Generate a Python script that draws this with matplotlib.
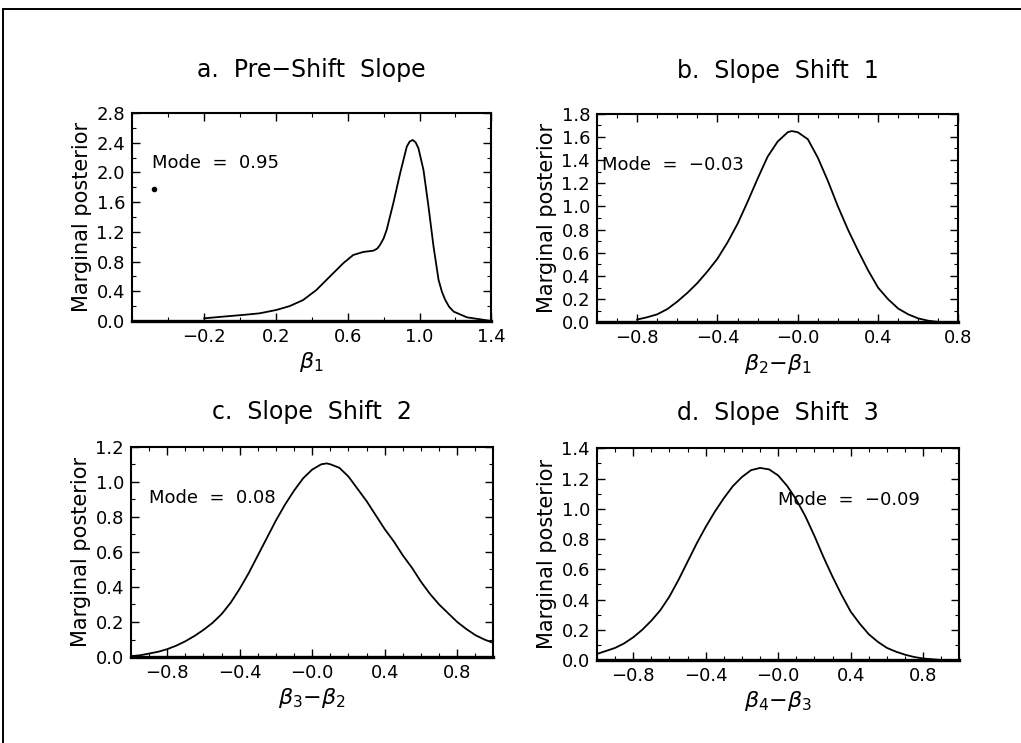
import matplotlib
matplotlib.use('Agg')
from matplotlib import pyplot as plt
from matplotlib.patches import Rectangle
from matplotlib.ticker import MultipleLocator

# panel a: pre-shift slope beta_1
a_x = [-0.198, -0.095, 0.016, 0.11, 0.203, 0.277, 0.351, 0.426, 0.50, 0.575, 0.631, 0.687,
       0.743, 0.765, 0.78, 0.80, 0.817, 0.854, 0.892, 0.929, 0.945, 0.962, 0.978, 0.994,
       1.022, 1.05, 1.078, 1.106, 1.125, 1.143, 1.165, 1.19, 1.264, 1.385]
a_y = [0.036, 0.058, 0.081, 0.103, 0.148, 0.20, 0.28, 0.417, 0.596, 0.776, 0.888, 0.929,
       0.946, 0.975, 1.023, 1.11, 1.225, 1.584, 1.988, 2.346, 2.415, 2.436, 2.405, 2.324,
       2.032, 1.538, 1.0, 0.552, 0.39, 0.283, 0.19, 0.126, 0.049, 0.005]

# panel b: slope shift 1
b_x = [-0.8, -0.75, -0.7, -0.65, -0.6, -0.55, -0.5, -0.45, -0.4, -0.35, -0.3, -0.25,
       -0.2, -0.15, -0.1, -0.05, -0.03, 0.0, 0.05, 0.1, 0.15, 0.2, 0.25, 0.3, 0.35, 0.4,
       0.45, 0.5, 0.55, 0.6, 0.65, 0.7, 0.75]
b_y = [0.025, 0.045, 0.07, 0.115, 0.18, 0.255, 0.34, 0.44, 0.55, 0.69, 0.85, 1.04,
       1.24, 1.43, 1.56, 1.64, 1.65, 1.64, 1.58, 1.42, 1.22, 1.00, 0.80, 0.62, 0.45, 0.30,
       0.20, 0.12, 0.07, 0.035, 0.015, 0.005, 0.0]

# panel c: slope shift 2
c_x = [-1.0, -0.95, -0.9, -0.85, -0.8, -0.75, -0.7, -0.65, -0.6, -0.55, -0.5, -0.45,
       -0.4, -0.35, -0.3, -0.25, -0.2, -0.15, -0.1, -0.05, 0.0, 0.05, 0.08, 0.1, 0.15,
       0.2, 0.25, 0.3, 0.35, 0.4, 0.45, 0.5, 0.55, 0.6, 0.65, 0.7, 0.75, 0.8, 0.85, 0.9,
       0.95, 1.0]
c_y = [0.005, 0.01, 0.02, 0.03, 0.045, 0.065, 0.09, 0.12, 0.155, 0.195, 0.245, 0.31,
       0.39, 0.48, 0.58, 0.68, 0.78, 0.87, 0.95, 1.02, 1.07, 1.10, 1.105, 1.10, 1.08,
       1.03, 0.96, 0.89, 0.81, 0.73, 0.66, 0.58, 0.51, 0.43, 0.36, 0.30, 0.25, 0.20, 0.16,
       0.125, 0.10, 0.08]

# panel d: slope shift 3
d_x = [-1.0, -0.95, -0.9, -0.85, -0.8, -0.75, -0.7, -0.65, -0.6, -0.55, -0.5, -0.45,
       -0.4, -0.35, -0.3, -0.25, -0.2, -0.15, -0.1, -0.05, 0.0, 0.05, 0.1, 0.15, 0.2,
       0.25, 0.3, 0.35, 0.4, 0.45, 0.5, 0.55, 0.6, 0.65, 0.7, 0.75, 0.8, 0.85, 0.9, 1.0]
d_y = [0.04, 0.06, 0.08, 0.11, 0.15, 0.20, 0.26, 0.33, 0.42, 0.53, 0.65, 0.77,
       0.88, 0.98, 1.07, 1.15, 1.21, 1.255, 1.27, 1.26, 1.22, 1.15, 1.06, 0.95, 0.82,
       0.68, 0.55, 0.43, 0.32, 0.24, 0.17, 0.12, 0.08, 0.055, 0.035, 0.02, 0.01, 0.005,
       0.0, 0.0]

titles = ['a.  Pre\u2212Shift  Slope', 'b.  Slope  Shift  1',
          'c.  Slope  Shift  2', 'd.  Slope  Shift  3']
xlabels = [r'$\beta_1$', r'$\beta_2{-}\beta_1$', r'$\beta_3{-}\beta_2$', r'$\beta_4{-}\beta_3$']
mode_texts = ['Mode  =  0.95', 'Mode  =  \u22120.03', 'Mode  =  0.08', 'Mode  =  \u22120.09']
mode_pos = [(-0.49, 2.13), (-0.975, 1.36), (-0.9, 0.91), (0.0, 1.06)]

xtick_vals = [[-0.2, 0.2, 0.6, 1.0, 1.4], [-0.8, -0.4, 0.0, 0.4, 0.8],
              [-0.8, -0.4, 0.0, 0.4, 0.8], [-0.8, -0.4, 0.0, 0.4, 0.8]]
xtick_labels = [['\u22120.2', '0.2', '0.6', '1.0', '1.4'],
                ['\u22120.8', '\u22120.4', '\u22120.0', '0.4', '0.8'],
                ['\u22120.8', '\u22120.4', '\u22120.0', '0.4', '0.8'],
                ['\u22120.8', '\u22120.4', '\u22120.0', '0.4', '0.8']]
xlims = [(-0.6, 1.4), (-1.0, 0.8), (-1.0, 1.0), (-1.0, 1.0)]
ylims = [(0, 2.8), (0, 1.8), (0, 1.2), (0, 1.4)]
ystep = [0.4, 0.2, 0.2, 0.2]

curves = [(a_x, a_y), (b_x, b_y), (c_x, c_y), (d_x, d_y)]

fig = plt.figure(figsize=(10.21, 7.43), dpi=100)
# page frame round the figure (runs off right and bottom)
fig.patches.append(Rectangle((0.003, -0.1), 1.2, 1.0906 - 0.003, transform=fig.transFigure,
                             fill=False, edgecolor='black', linewidth=1.4))

positions = [[0.1293, 0.568, 0.352, 0.280], [0.5847, 0.566, 0.354, 0.281],
             [0.1283, 0.1157, 0.355, 0.283], [0.5847, 0.1117, 0.355, 0.285]]
title_pad = [26, 26, 20, 20]

for i in range(4):
    ax = fig.add_axes(positions[i])
    x, y = curves[i]
    ax.plot(x, y, color='black', linewidth=1.3)
    ax.set_xlim(xlims[i])
    ax.set_ylim(ylims[i])
    ax.set_xticks(xtick_vals[i])
    ax.set_xticklabels(xtick_labels[i])
    ax.xaxis.set_minor_locator(MultipleLocator(0.2 if i == 0 else 0.1))
    ax.yaxis.set_major_locator(MultipleLocator(ystep[i]))
    ax.yaxis.set_minor_locator(MultipleLocator(ystep[i] / 2))
    ax.set_yticklabels(['%.1f' % v for v in ax.get_yticks()])
    ax.tick_params(which='both', direction='in', top=True, right=True, labelsize=13)
    ax.tick_params(which='major', length=6, width=1.0, pad=5)
    ax.tick_params(which='minor', length=3, width=0.8)
    for s in ax.spines.values():
        s.set_linewidth(1.5)
    ax.spines['bottom'].set_linewidth(2.4)
    ax.set_title(titles[i], fontsize=17, pad=title_pad[i])
    ax.set_xlabel(xlabels[i], fontsize=16, labelpad=3)
    ax.set_ylabel('Marginal posterior', fontsize=15, labelpad=3)
    ax.text(mode_pos[i][0], mode_pos[i][1], mode_texts[i], fontsize=13, va='center', ha='left')
    if i == 0:
        ax.plot([-0.48], [1.77], 'o', color='black', markersize=3)

fig.savefig('out.png', dpi=100)
